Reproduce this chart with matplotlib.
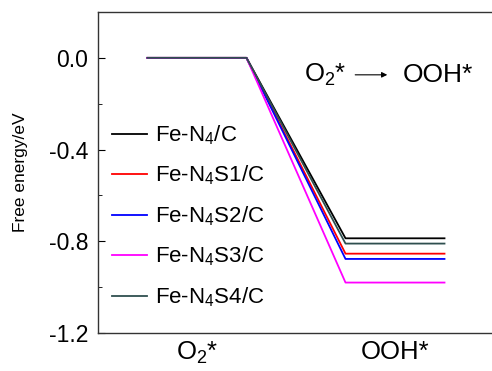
import matplotlib
matplotlib.use("Agg")
import matplotlib.pyplot as plt

plt.rcParams['font.family'] = ['Liberation Sans', 'DejaVu Sans']
plt.rcParams['mathtext.default'] = 'regular'

steps = ['O$_2$*', 'OOH*']
series = ['Fe-N$_4$/C', 'Fe-N$_4$S1/C', 'Fe-N$_4$S2/C', 'Fe-N$_4$S3/C', 'Fe-N$_4$S4/C']
o2_energy = [0.0, 0.0, 0.0, 0.0, 0.0]
ooh_energy = [-0.787, -0.854, -0.877, -0.980, -0.810]
colors = ['black', 'red', 'blue', 'magenta', '#2f4f4f']

fig = plt.figure(figsize=(4.92, 3.71), dpi=100)
ax = fig.add_axes([98/492, 1-333/371, 396/492, 321/371])

for name, e0, e1, c in zip(series, o2_energy, ooh_energy, colors):
    xs = [1, 2, 3, 4]
    ys = [e0, e0, e1, e1]
    ax.plot(xs, ys, color=c, lw=1.3, label=name)

ax.set_xlim(0.5, 4.5)
ax.set_ylim(-1.2, 0.2)
ax.set_yticks([0.0, -0.4, -0.8, -1.2])
ax.set_yticklabels(['0.0', '-0.4', '-0.8', '-1.2'])
ax.set_yticks([-0.2, -0.6, -1.0], minor=True)
ax.set_xticks([1.5, 3.5])
ax.set_xticklabels(steps)
ax.tick_params(axis='x', length=0, labelsize=18.5, pad=5)
ax.tick_params(axis='y', which='major', direction='in', length=5, labelsize=16.5, pad=7)
ax.tick_params(axis='y', which='minor', direction='in', length=3)
for s in ax.spines.values():
    s.set_linewidth(1.0)
    s.set_color('#333333')

ax.set_ylabel('Free energy/eV', fontsize=12.5)
ax.yaxis.set_label_coords(-0.177, 0.5)

leg = ax.legend(loc='center left', bbox_to_anchor=(0.035, 0.364), frameon=False,
                fontsize=16, handlelength=1.6, handletextpad=0.35,
                labelspacing=0.76, borderpad=0, borderaxespad=0)

ax.annotate('', xy=(3.45, -0.074), xytext=(3.07, -0.074),
            arrowprops=dict(arrowstyle='-|>', color='black', lw=0.8, mutation_scale=8))
ax.text(2.58, -0.074, 'O$_2$*', fontsize=18.5, ha='left', va='center')
ax.text(3.58, -0.074, 'OOH*', fontsize=19, ha='left', va='center')

fig.savefig('out.png', dpi=100)
